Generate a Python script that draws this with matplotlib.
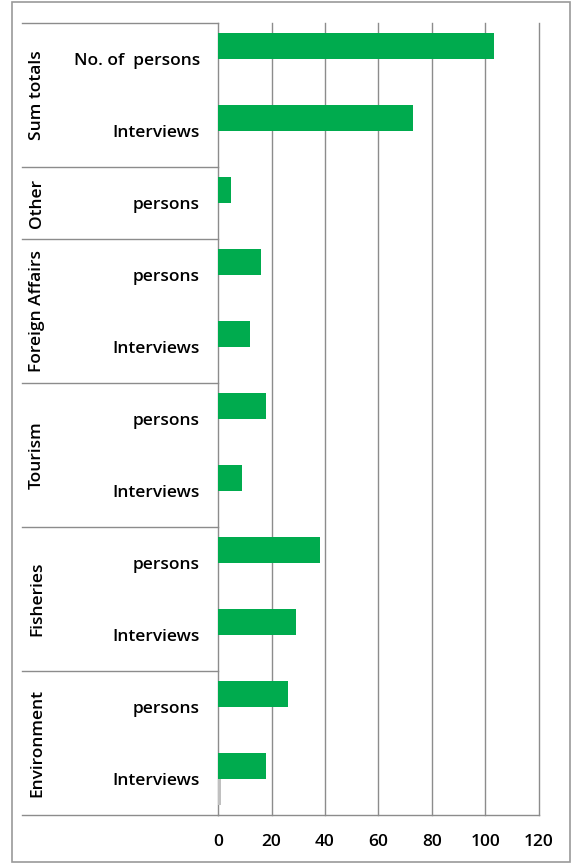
import matplotlib.pyplot as plt
import matplotlib.transforms as mtransforms
from matplotlib.patches import Rectangle

# bottom to top
groups = ["Environment", "Fisheries", "Tourism", "Foreign Affairs", "Other", "Sum totals"]
group_sizes = [2, 2, 2, 2, 1, 2]
labels = ["Interviews", "persons", "Interviews", "persons", "Interviews", "persons",
          "Interviews", "persons", "persons", "Interviews", "No. of  persons"]
values = [18, 26, 29, 38, 9, 18, 12, 16, 5, 73, 103]
values2 = [1, 0, 0, 0, 0, 0, 0, 0, 0, 0, 0]
xticks = [0, 20, 40, 60, 80, 100, 120]

W, H = 573, 864
fig = plt.figure(figsize=(W / 100, H / 100), dpi=100)
plt.rcParams['font.family'] = ['Open Sans', 'DejaVu Sans']
fs = 12.5

# outer frame
fig.patches.append(Rectangle((12 / W, 1 - 862 / H), 558 / W, 860 / H, transform=fig.transFigure,
                             fill=False, edgecolor='#9a9a9a', linewidth=1.2))

ax = fig.add_axes([218 / W, 1 - 815 / H, (539 - 218) / W, (815 - 23) / H])
y = list(range(len(values)))
bh = 0.36
ax.barh([v + bh / 2 for v in y], values, height=bh, color='#00ab4e', zorder=3)
ax.barh([v - bh / 2 for v in y], values2, height=bh, color='#c0c0c0', zorder=3)

ax.set_xlim(0, 120)
ax.set_ylim(-0.5, len(values) - 0.5)
ax.set_xticks(xticks)
ax.set_xticklabels([str(t) for t in xticks], fontsize=fs, fontweight='semibold')
ax.set_yticks(y)
ax.set_yticklabels(labels, fontsize=fs, fontweight='semibold')
ax.tick_params(length=0)
ax.tick_params(axis='x', pad=14)
ax.tick_params(axis='y', pad=13)
for t in xticks[1:]:
    ax.axvline(t, color='#8c8c8c', linewidth=1, zorder=1, clip_on=False)
for s in ['top', 'right']:
    ax.spines[s].set_visible(False)
for s in ['left', 'bottom']:
    ax.spines[s].set_color('#8c8c8c')
    ax.spines[s].set_linewidth(1)

# group separators and group labels
tr = mtransforms.blended_transform_factory(fig.transFigure, ax.transData)
x0, x1 = 22 / W, 218 / W
pos = -0.5
ax.plot([x0, x1], [pos, pos], transform=tr, color='#8c8c8c', lw=1, clip_on=False)
for g, n in zip(groups, group_sizes):
    top = pos + n
    ax.plot([x0, x1], [top, top], transform=tr, color='#8c8c8c', lw=1, clip_on=False)
    ax.text(37 / W, pos + n / 2, g, transform=tr, rotation=90, ha='center', va='center',
            fontsize=fs, fontweight='semibold')
    pos = top

fig.savefig('out.png', dpi=100)
